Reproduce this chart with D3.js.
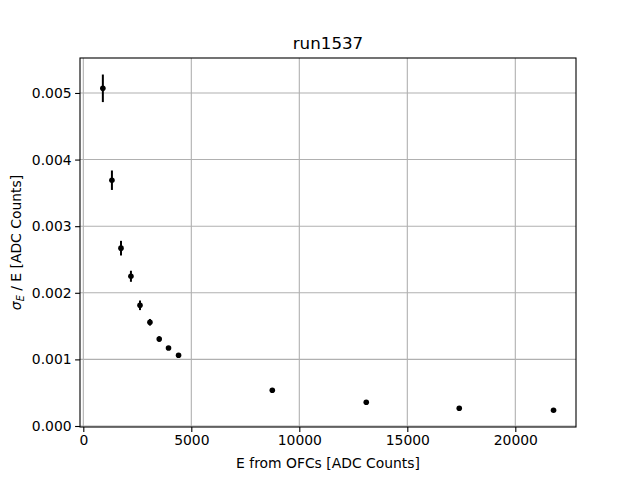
<!DOCTYPE html>
<html><head><meta charset="utf-8">
<script src="https://cdn.jsdelivr.net/npm/d3@7"></script>
<style>body{margin:0;background:#fff}svg{display:block}text{font-family:"DejaVu Sans",sans-serif}</style>
</head><body>
<svg id="c" width="640" height="480"></svg>
<script>
const energies = [905, 1325, 1745, 2205, 2625, 3085, 3515, 3945, 4410, 8750, 13100, 17405, 21770];
const sigmaOverE = [0.00507, 0.00369, 0.00267, 0.002248, 0.001812, 0.001557, 0.001306, 0.001171, 0.001062, 0.000536, 0.000356, 0.000266, 0.000236];
const errors = [0.000207, 0.000146, 0.00011, 0.000083, 0.000072, 0.00005, 0.000042, 0.00002, 0.000018, 0.000008, 0.000005, 0.000004, 0.000003];
const xTicks = [0, 5000, 10000, 15000, 20000];
const yTicks = [0.000, 0.001, 0.002, 0.003, 0.004, 0.005];
const title = "run1537";
const xLabel = "E from OFCs [ADC Counts]";

const svg = d3.select("#c");
const L = 80, R = 576, T = 58, B = 427;
const x = d3.scaleLinear().domain([-153, 22810]).range([L, R]);
const y = d3.scaleLinear().domain([-0.000015, 0.005525]).range([B, T]);

// grid
svg.append("g").selectAll("line").data(xTicks).join("line")
  .attr("x1", d => x(d)).attr("x2", d => x(d)).attr("y1", T).attr("y2", B)
  .attr("stroke", "#b0b0b0").attr("stroke-width", 1.1);
svg.append("g").selectAll("line").data(yTicks).join("line")
  .attr("y1", d => y(d)).attr("y2", d => y(d)).attr("x1", L).attr("x2", R)
  .attr("stroke", "#b0b0b0").attr("stroke-width", 1.1);

// axes
const xa = svg.append("g").attr("transform", `translate(0,${B})`)
  .call(d3.axisBottom(x).tickValues(xTicks).tickFormat(d3.format("d")).tickSize(4.9).tickPadding(3.5));
const ya = svg.append("g").attr("transform", `translate(${L},0)`)
  .call(d3.axisLeft(y).tickValues(yTicks).tickFormat(d3.format(".3f")).tickSize(4.9).tickPadding(3.5));
[xa, ya].forEach(a => {
  a.select(".domain").remove();
  a.selectAll("line").attr("stroke", "#000").attr("stroke-width", 1.1);
  a.selectAll("text").attr("font-size", 13.9).attr("fill", "#000").style("font-family", '"DejaVu Sans",sans-serif');
});

// frame
svg.append("rect").attr("x", L).attr("y", T).attr("width", R - L).attr("height", B - T)
  .attr("fill", "none").attr("stroke", "#000").attr("stroke-width", 1.1);

// data
const data = energies.map((e, i) => ({e, v: sigmaOverE[i], err: errors[i]}));
svg.append("g").selectAll("line").data(data).join("line")
  .attr("x1", d => x(d.e)).attr("x2", d => x(d.e))
  .attr("y1", d => y(d.v - d.err)).attr("y2", d => y(d.v + d.err))
  .attr("stroke", "#000").attr("stroke-width", 2);
svg.append("g").selectAll("circle").data(data).join("circle")
  .attr("cx", d => x(d.e)).attr("cy", d => y(d.v)).attr("r", 2.8).attr("fill", "#000");

// labels
svg.append("text").attr("x", (L + R) / 2).attr("y", 49).attr("text-anchor", "middle")
  .attr("font-size", 16.7).text(title);
svg.append("text").attr("x", (L + R) / 2).attr("y", 468).attr("text-anchor", "middle")
  .attr("font-size", 13.9).text(xLabel);
const yl = svg.append("text").attr("transform", `translate(21,${(T + B) / 2}) rotate(-90)`)
  .attr("text-anchor", "middle").attr("font-size", 13.9);
yl.append("tspan").attr("font-style", "italic").text("σ");
yl.append("tspan").attr("font-style", "italic").attr("font-size", 9.7).attr("dy", 3).text("E");
yl.append("tspan").attr("dy", -3).text(" / E [ADC Counts]");
</script>
</body></html>
